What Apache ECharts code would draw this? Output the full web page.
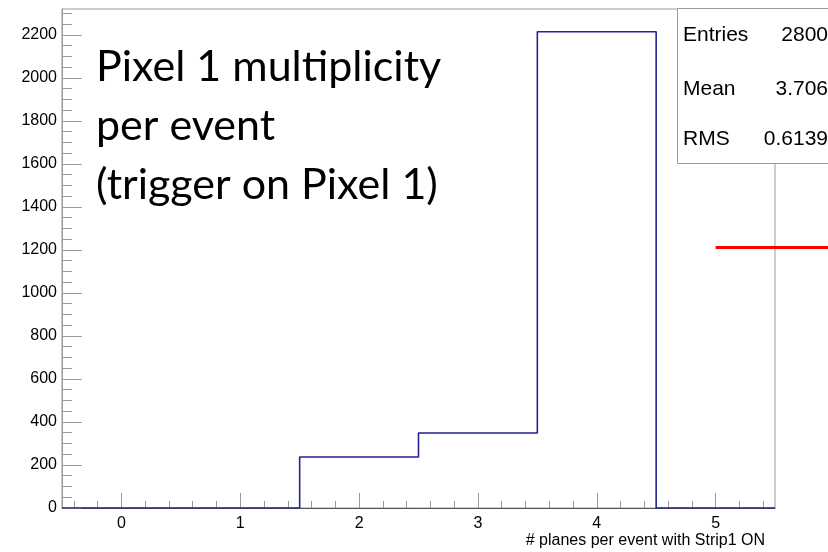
<!DOCTYPE html>
<html>
<head>
<meta charset="utf-8">
<script src="https://cdn.jsdelivr.net/npm/echarts@6/dist/echarts.min.js"></script>
<style>html,body{margin:0;padding:0;background:#fff;}#c{width:828px;height:552px;}</style>
</head>
<body>
<div id="c"></div>
<script>
// ---- data ----
var binCenters = [0, 1, 2, 3, 4, 5];
var binCounts  = [0, 0, 237, 349, 2214, 0];
var xTickLabels = [0, 1, 2, 3, 4, 5];
var yTickLabels = [0, 200, 400, 600, 800, 1000, 1200, 1400, 1600, 1800, 2000, 2200];
var statNames  = ['Entries', 'Mean', 'RMS'];
var statValues = ['2800', '3.706', '0.6139'];
var redLineX = [5.0, 6.0];
var redLineY = [1211, 1211];
var annotationLines = ['Pixel 1 multiplicity', 'per event', '(trigger on Pixel 1)'];
var xTitle = '# planes per event with Strip1 ON';

// ---- build ----
var xMin = -0.5, xMax = 5.5, yMin = 0, yMax = 2320;
var histPts = [];
for (var i = 0; i < binCenters.length; i++) histPts.push([binCenters[i] - 0.5, binCounts[i]]);
histPts.push([binCenters[binCenters.length - 1] + 0.5, binCounts[binCounts.length - 1]]);

var minorX = [];
for (var k = 0; k <= 30; k++) { var v = Math.round((xMin + 0.1 + k * 0.2) * 10) / 10; if (v > xMin && v < xMax) minorX.push(v); }
var minorY = [];
for (var m = 0; m <= yMax; m += 50) minorY.push(m);

var gridL = 62, gridR = 53, gridT = 9, gridB = 44, W = 828;
var plotW = W - gridL - gridR;
var x2Max = xMin + (xMax - xMin) * (W - gridL) / plotW;

var gray = '#9a9a9a';
var font = 'Liberation Sans, Arial, sans-serif';
var plain = function (v) { return String(v); };

var chart = echarts.init(document.getElementById('c'), null, {renderer: 'canvas'});
var graphics = [
  {type: 'rect', z: 100, shape: {x: 677.5, y: 8.5, width: 170, height: 155}, style: {fill: '#fff', stroke: gray, lineWidth: 1}}
];
var rowY = [35, 89, 139];
for (var r = 0; r < statNames.length; r++) {
  graphics.push({type: 'text', z: 101, x: 683, y: rowY[r], style: {text: statNames[r], font: '21px ' + font, fill: '#000', verticalAlign: 'middle', align: 'left'}});
  graphics.push({type: 'text', z: 101, x: 828, y: rowY[r], style: {text: statValues[r], font: '21px ' + font, fill: '#000', verticalAlign: 'middle', align: 'right'}});
}
var annY = [67, 126, 185];
for (var a = 0; a < annotationLines.length; a++) {
  graphics.push({type: 'text', z: 101, x: 96, y: annY[a], style: {text: annotationLines[a], font: '43px Lato, sans-serif', fill: '#000', verticalAlign: 'middle', align: 'left'}});
}
graphics.push({type: 'text', z: 101, x: 765, y: 541, style: {text: xTitle, font: '16px ' + font, fill: '#000', verticalAlign: 'middle', align: 'right'}});

var option = {
  animation: false,
  backgroundColor: '#fff',
  grid: [
    {left: gridL, right: gridR, top: gridT, bottom: gridB, show: true, borderColor: gray, borderWidth: 1, backgroundColor: 'transparent'},
    {left: gridL, right: 0, top: gridT, bottom: gridB, show: false}
  ],
  xAxis: [
    {type: 'value', gridIndex: 0, min: xMin, max: xMax, position: 'bottom',
     axisLine: {show: true, onZero: false, lineStyle: {color: '#555', width: 1}},
     axisTick: {show: true, inside: true, length: 15, customValues: xTickLabels, lineStyle: {color: gray}},
     axisLabel: {show: true, customValues: xTickLabels, formatter: plain, margin: 8, color: '#000', fontSize: 16, fontFamily: font},
     splitLine: {show: false}},
    {type: 'value', gridIndex: 0, min: xMin, max: xMax, position: 'bottom',
     axisLine: {show: false, onZero: false},
     axisTick: {show: true, inside: true, length: 7, customValues: minorX, lineStyle: {color: gray}},
     axisLabel: {show: false}, splitLine: {show: false}},
    {type: 'value', gridIndex: 1, min: xMin, max: x2Max, show: false}
  ],
  yAxis: [
    {type: 'value', gridIndex: 0, min: yMin, max: yMax, position: 'left',
     axisLine: {show: true, onZero: false, lineStyle: {color: gray, width: 1}},
     axisTick: {show: true, inside: true, length: 20, customValues: yTickLabels, lineStyle: {color: gray}},
     axisLabel: {show: true, customValues: yTickLabels, formatter: plain, margin: 5, color: '#000', fontSize: 16, fontFamily: font},
     splitLine: {show: false}},
    {type: 'value', gridIndex: 0, min: yMin, max: yMax, position: 'left',
     axisLine: {show: false, onZero: false},
     axisTick: {show: true, inside: true, length: 10, customValues: minorY, lineStyle: {color: gray}},
     axisLabel: {show: false}, splitLine: {show: false}},
    {type: 'value', gridIndex: 1, min: yMin, max: yMax, show: false}
  ],
  series: [
    {type: 'line', xAxisIndex: 0, yAxisIndex: 0, data: histPts, step: 'end', symbol: 'none',
     lineStyle: {color: '#22229a', width: 1.6}, z: 5},
    {type: 'line', xAxisIndex: 2, yAxisIndex: 2, data: [[redLineX[0], redLineY[0]], [redLineX[1], redLineY[1]]], symbol: 'none',
     lineStyle: {color: '#ff0000', width: 3}, z: 6, clip: false}
  ],
  graphic: graphics
};
chart.setOption(option);
</script>
</body>
</html>
